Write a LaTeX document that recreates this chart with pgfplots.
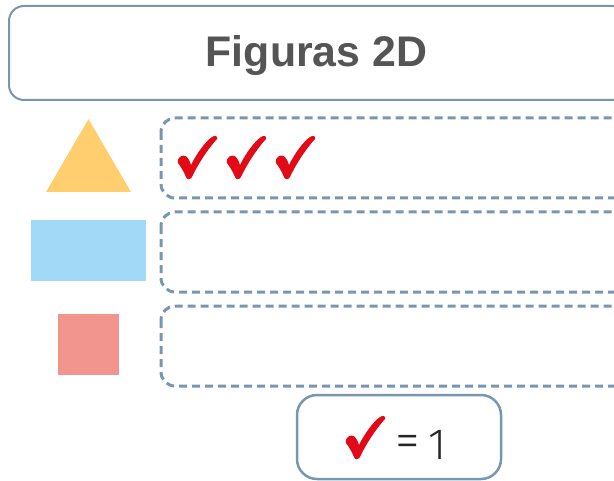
\documentclass[border=0pt]{standalone}
\usepackage{fontspec}
\setmainfont{Liberation Sans}
\newfontfamily\numfont{Fira Sans Light}
\usepackage{pgfplots}
\pgfplotsset{compat=1.18}
\definecolor{frame}{HTML}{7896B0}
\definecolor{titlec}{HTML}{555555}
\definecolor{tri}{HTML}{FFCE6E}
\definecolor{rectc}{HTML}{A1D9F7}
\definecolor{sq}{HTML}{F2958F}
\definecolor{chk}{HTML}{E30A17}
\pgfdeclareplotmark{check}{%
  \pgfpathmoveto{\pgfpoint{-18bp}{0bp}}%
  \pgfpathcurveto{\pgfpoint{-16bp}{3bp}}{\pgfpoint{-12bp}{3bp}}{\pgfpoint{-10bp}{1bp}}%
  \pgfpathcurveto{\pgfpoint{-8bp}{-1bp}}{\pgfpoint{-7bp}{-4bp}}{\pgfpoint{-6bp}{-7bp}}%
  \pgfpathcurveto{\pgfpoint{0bp}{5bp}}{\pgfpoint{8bp}{16bp}}{\pgfpoint{15bp}{21bp}}%
  \pgfpathcurveto{\pgfpoint{18bp}{23bp}}{\pgfpoint{21bp}{22bp}}{\pgfpoint{20bp}{19bp}}%
  \pgfpathcurveto{\pgfpoint{10bp}{8bp}}{\pgfpoint{0bp}{-8bp}}{\pgfpoint{-5bp}{-19bp}}%
  \pgfpathcurveto{\pgfpoint{-7bp}{-22bp}}{\pgfpoint{-10bp}{-22bp}}{\pgfpoint{-11bp}{-19bp}}%
  \pgfpathcurveto{\pgfpoint{-13bp}{-14bp}}{\pgfpoint{-16bp}{-9bp}}{\pgfpoint{-19bp}{-5bp}}%
  \pgfpathcurveto{\pgfpoint{-20bp}{-3bp}}{\pgfpoint{-19bp}{-1bp}}{\pgfpoint{-18bp}{0bp}}%
  \pgfpathclose
  \pgfusepathqfill
}
\tikzset{rowbox/.style={frame, line width=3bp, dash pattern=on 8bp off 5bp, rounded corners=14bp}}
\begin{document}
\begin{tikzpicture}
\begin{axis}[
  name=ax,
  x=1bp, y=1bp, y dir=reverse,
  xmin=0, xmax=614, ymin=0, ymax=481,
  hide axis, clip=true,
]
% title box
\draw[frame, line width=2bp, rounded corners=15bp] (axis cs:9,6) rectangle (axis cs:627,100);
\node[text=titlec, font=\bfseries\fontsize{43}{43}\selectfont] at (axis cs:316.5,56) {Figuras 2D};
% category icons
\addplot[fill=tri, draw=none] coordinates {(46,192) (131,192) (88.5,119)} -- cycle;
\addplot[fill=rectc, draw=none] coordinates {(31,220) (146,220) (146,281) (31,281)} -- cycle;
\addplot[fill=sq, draw=none] coordinates {(58,314) (119,314) (119,375) (58,375)} -- cycle;
% row boxes
\draw[rowbox] (axis cs:161,118) rectangle (axis cs:628,198);
\draw[rowbox] (axis cs:161,212) rectangle (axis cs:628,292);
\draw[rowbox] (axis cs:161,306) rectangle (axis cs:628,386);
% pictograph: triangle = 3 checks
\addplot[only marks, mark=check, color=chk] coordinates {(197,158) (246,158) (295,158)};
% key
\draw[frame, line width=2.5bp, rounded corners=20bp] (axis cs:297,395) rectangle (axis cs:501,479);
\addplot[only marks, mark=check, color=chk] coordinates {(365,438)};
\node[anchor=center, inner sep=0pt, font=\numfont\fontsize{50}{50}\selectfont, text=black!85] at (axis cs:407.5,446.5) {=};
\node[anchor=base west, inner sep=0pt, font=\numfont\fontsize{44}{44}\selectfont, text=black!85] at (axis cs:428,459) {1};
\end{axis}
\pgfresetboundingbox
\path[use as bounding box] (ax.south west) rectangle (ax.north east);
\end{tikzpicture}
\end{document}
